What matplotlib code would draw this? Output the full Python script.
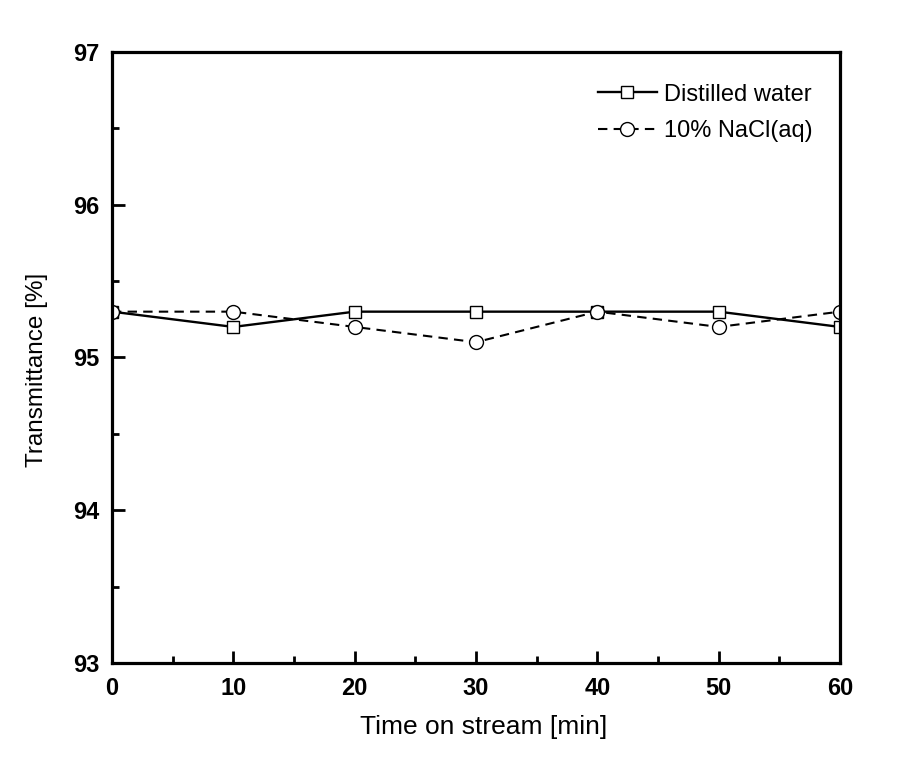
import numpy as np
import matplotlib
matplotlib.use('Agg')
import matplotlib.pyplot as plt
from matplotlib.ticker import MultipleLocator

plt.rcParams['font.family'] = ['Liberation Sans', 'DejaVu Sans']

time = [0, 10, 20, 30, 40, 50, 60]
distilled = [95.3, 95.2, 95.3, 95.3, 95.3, 95.3, 95.2]
nacl = [95.3, 95.3, 95.2, 95.1, 95.3, 95.2, 95.3]

fig = plt.figure(figsize=(9, 7.61), dpi=100)
ax = fig.add_axes([0.1244, 0.1288, 0.8089, 0.8029])

ax.plot(time, distilled, 'k-', lw=1.7, marker='s', ms=9, mfc='white', mec='black',
        mew=1, label='Distilled water')
ax.plot(time, nacl, 'k--', lw=1.5, marker='o', ms=10, mfc='white', mec='black',
        mew=1, label='10% NaCl(aq)', dashes=(4.5, 3))

ax.set_xlim(0, 60)
ax.set_ylim(93, 97)
ax.xaxis.set_major_locator(MultipleLocator(10))
ax.xaxis.set_minor_locator(MultipleLocator(5))
ax.yaxis.set_major_locator(MultipleLocator(1))
ax.yaxis.set_minor_locator(MultipleLocator(0.5))
ax.tick_params(which='both', direction='in', width=2, top=False, right=False)
ax.tick_params(which='major', length=9, labelsize=17)
ax.tick_params(axis='x', which='major', pad=10)
ax.tick_params(axis='y', which='major', pad=9)
ax.tick_params(which='minor', length=5)
for lab in ax.get_xticklabels() + ax.get_yticklabels():
    lab.set_fontweight('bold')
for s in ax.spines.values():
    s.set_linewidth(2.3)

ax.set_xlabel('Time on stream [min]', fontsize=19)
ax.set_ylabel('Transmittance [%]', fontsize=17.5)
ax.xaxis.set_label_coords(0.511, -0.085)
ax.yaxis.set_label_coords(-0.088, 0.48)

ax.legend(loc='upper right', bbox_to_anchor=(0.962, 0.948), frameon=False,
          fontsize=17, handlelength=2.5, handletextpad=0.3, borderpad=0,
          borderaxespad=0, labelspacing=0.62)

fig.savefig('out.png', dpi=100)
